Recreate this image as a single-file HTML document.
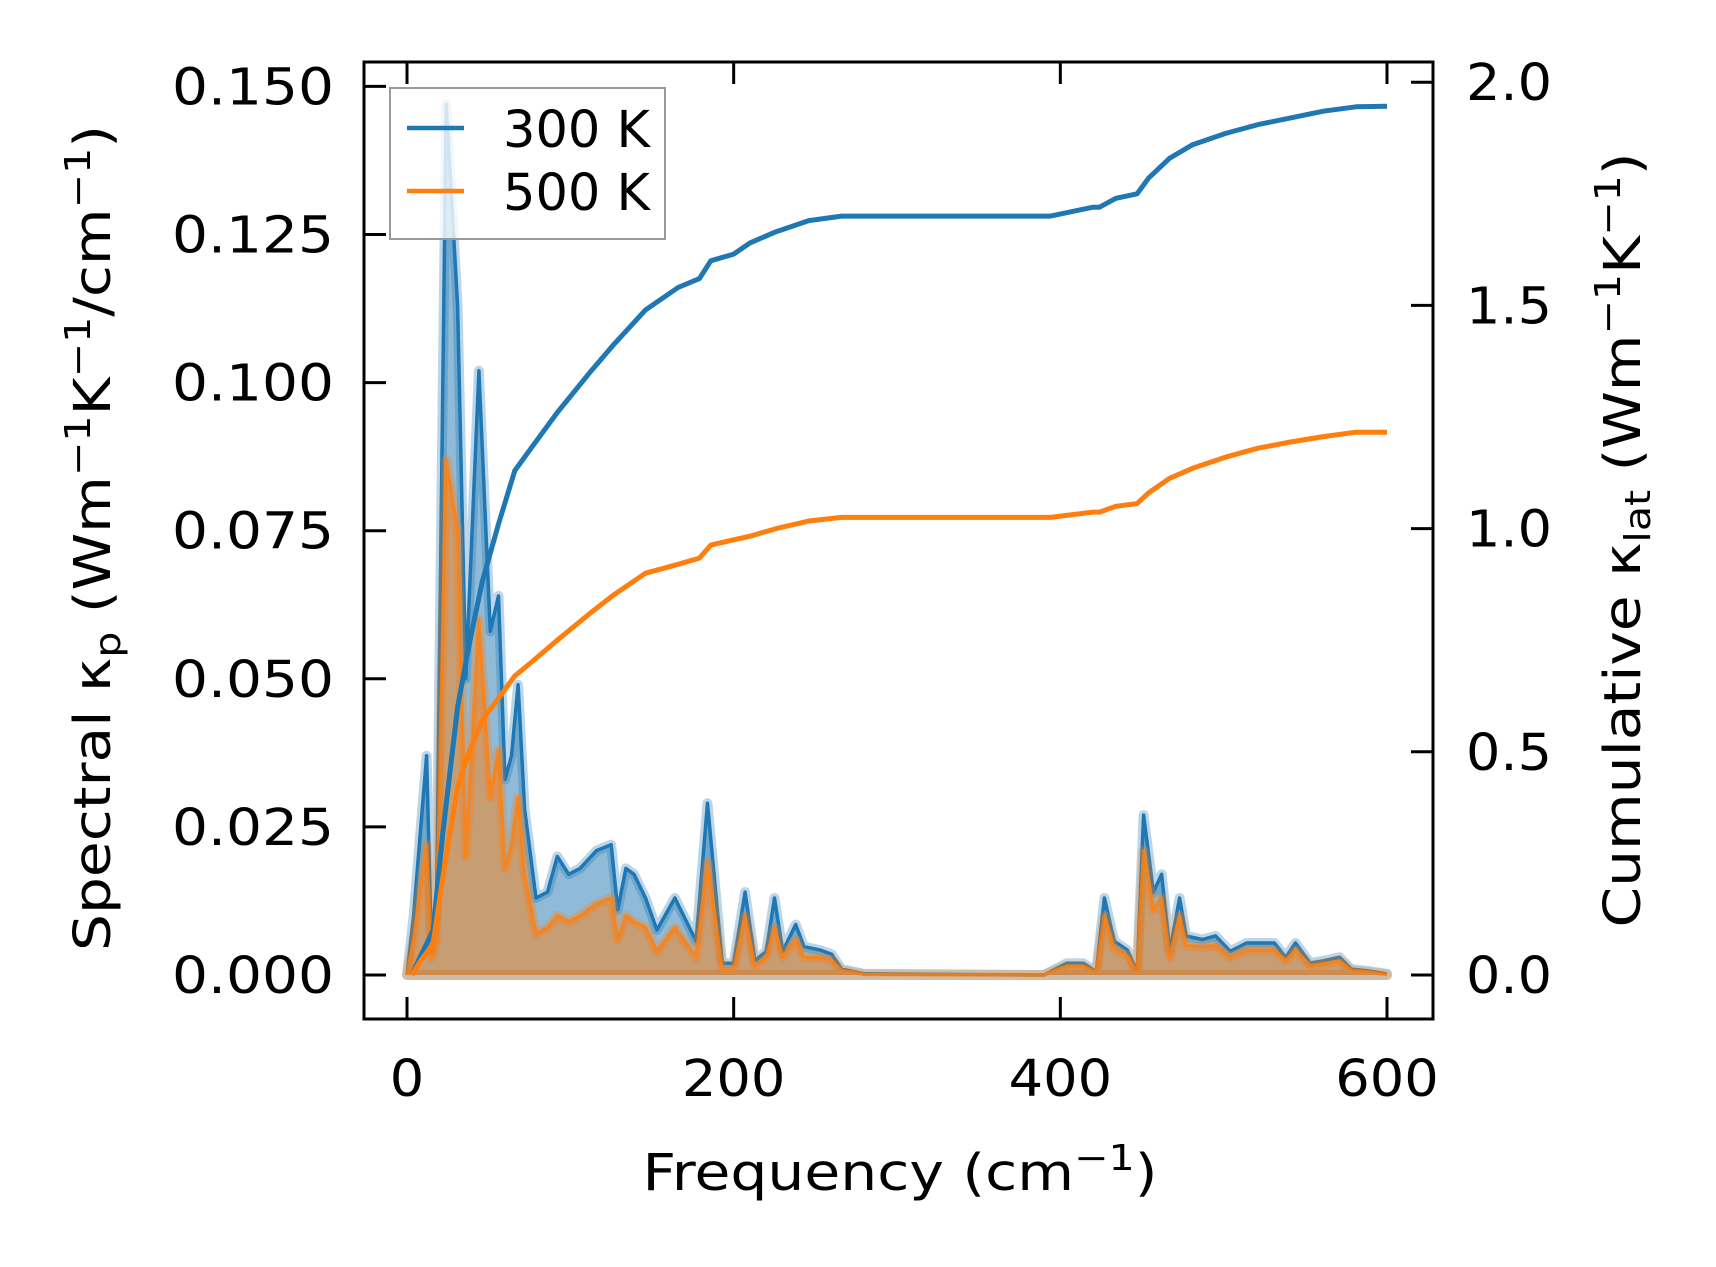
<!DOCTYPE html>
<html><head><meta charset="utf-8"><style>
html,body{margin:0;padding:0;background:#fff;}
svg{display:block;}
text{font-family:"DejaVu Sans","Liberation Sans",sans-serif;fill:#000;}
</style></head><body>
<svg id="chart" width="1716" height="1267" viewBox="0 0 1716 1267" xmlns="http://www.w3.org/2000/svg">
<rect width="1716" height="1267" fill="#fff"/>
<g id="plot"></g>
<g id="axes"></g>
</svg>
<script>
const freqs = [0,4,12,15,18,24,31,36,44,51,56,60,64,68,72,79,86,92,99,106,116,125,129,134,139,146,153,164,177,184,193,200,207,213,220,225,230,238,243,253,260,266,280,390,397,404,414,422,427,433,441,447,451,457,462,467,473,477,487,495,504,514,531,538,544,553,561,571,578,588,600];
const spec300 = [0,0.0098,0.037,0.004,0.010,0.147,0.113,0.050,0.102,0.058,0.064,0.033,0.037,0.049,0.028,0.013,0.014,0.020,0.017,0.018,0.021,0.022,0.011,0.018,0.017,0.013,0.0076,0.013,0.0057,0.029,0.002,0.002,0.014,0.0024,0.004,0.013,0.004,0.0085,0.0048,0.0042,0.0035,0.001,0.0002,0,0.001,0.002,0.002,0.0005,0.013,0.0057,0.0042,0.0005,0.027,0.014,0.017,0.004,0.013,0.0066,0.006,0.0066,0.004,0.0054,0.0054,0.003,0.0054,0.002,0.0024,0.003,0.001,0.0007,0.0002];
const spec500 = [0,0.006,0.022,0.003,0.006,0.087,0.075,0.020,0.060,0.030,0.038,0.018,0.022,0.030,0.017,0.007,0.008,0.010,0.009,0.010,0.012,0.013,0.006,0.010,0.009,0.008,0.004,0.008,0.003,0.019,0.001,0.001,0.010,0.0015,0.003,0.008,0.003,0.006,0.003,0.003,0.0025,0.0008,0.0001,0,0.0008,0.0015,0.0015,0.0004,0.010,0.0045,0.0033,0.0004,0.021,0.011,0.013,0.003,0.010,0.005,0.0048,0.005,0.003,0.0042,0.0042,0.0024,0.0042,0.0016,0.0019,0.0024,0.0008,0.0005,0.0001];
const cumFreqs = [3,8,12,16,22,31,38,46,56,66,76,92,112,126,146,166,179,186,200,210,226,246,266,287,394,420,424,434,447,454,467,481,501,521,541,561,581,600];
const cum300 = [0,0.04,0.07,0.10,0.32,0.60,0.74,0.88,1.01,1.13,1.18,1.26,1.35,1.41,1.49,1.54,1.56,1.60,1.615,1.64,1.665,1.69,1.70,1.70,1.70,1.72,1.72,1.74,1.75,1.785,1.83,1.86,1.885,1.905,1.92,1.935,1.945,1.946];
const cum500 = [0,0.03,0.05,0.07,0.22,0.42,0.50,0.57,0.62,0.67,0.70,0.75,0.81,0.85,0.90,0.92,0.934,0.963,0.975,0.983,1.0,1.017,1.025,1.025,1.025,1.037,1.037,1.05,1.056,1.08,1.113,1.135,1.16,1.18,1.194,1.206,1.216,1.216];
const xTicks = [0,200,400,600];
const yLeftTicks = [0,0.025,0.05,0.075,0.1,0.125,0.15];
const yLeftLabels = ["0.000","0.025","0.050","0.075","0.100","0.125","0.150"];
const yRightTicks = [0,0.5,1.0,1.5,2.0];
const yRightLabels = ["0.0","0.5","1.0","1.5","2.0"];

const NS="http://www.w3.org/2000/svg";
const L=364,R=1433,T=62,B=1019;
function X(f){return 407+(f/600)*(1387-407);}
function YL(v){return 975-v/0.025*148.1;}
function YR(v){return 975-v/0.5*223.2;}
function mk(tag,attrs,parent){const e=document.createElementNS(NS,tag);for(const k in attrs)e.setAttribute(k,attrs[k]);parent.appendChild(e);return e;}
const plot=document.getElementById('plot'),axes=document.getElementById('axes');
function linePts(xs,ys,fy){return xs.map((f,i)=>X(f).toFixed(1)+','+fy(ys[i]).toFixed(1)).join(' ');}
function areaD(xs,ys){let d='M'+X(xs[0])+','+YL(0);xs.forEach((f,i)=>{d+=' L'+X(f).toFixed(1)+','+YL(ys[i]).toFixed(1);});d+=' L'+X(xs[xs.length-1])+','+YL(0)+' Z';return d;}

let a1=mk('path',{d:areaD(freqs,spec300),fill:'#1f77b4','fill-opacity':0.5,stroke:'#1f77b4','stroke-opacity':0.3,'stroke-width':10,'stroke-linejoin':'round'},plot);


let l1=mk('polyline',{points:linePts(freqs,spec300,YL),fill:'none',stroke:'#1f77b4','stroke-width':3.5,'stroke-linejoin':'round'},plot);


let a2=mk('path',{d:areaD(freqs,spec500),fill:'#ff7f0e','fill-opacity':0.5,stroke:'#ff7f0e','stroke-opacity':0.3,'stroke-width':10,'stroke-linejoin':'round'},plot);


let l2=mk('polyline',{points:linePts(freqs,spec500,YL),fill:'none',stroke:'#ff7f0e','stroke-width':3.5,'stroke-linejoin':'round','stroke-opacity':0.8},plot);


let c1=mk('polyline',{points:linePts(cumFreqs,cum300,YR),fill:'none',stroke:'#1f77b4','stroke-width':5,'stroke-linejoin':'round'},plot);


let c2=mk('polyline',{points:linePts(cumFreqs,cum500,YR),fill:'none',stroke:'#ff7f0e','stroke-width':5,'stroke-linejoin':'round'},plot);



let fr=mk('rect',{x:L,y:T,width:R-L,height:B-T,fill:'none',stroke:'#000','stroke-width':3},axes);


const TL=22;
xTicks.forEach(v=>{
  mk('line',{x1:X(v),x2:X(v),y1:B,y2:B-TL,stroke:'#000','stroke-width':3},axes);
  mk('line',{x1:X(v),x2:X(v),y1:T,y2:T+TL,stroke:'#000','stroke-width':3},axes);
  const s=String(v);
  let t=mk('text',{x:X(v),y:1096,'font-size':51,'text-anchor':'middle',textLength:s.length*34.5,lengthAdjust:'spacingAndGlyphs'},axes);t.textContent=s;
  
  
});
yLeftTicks.forEach((v,i)=>{
  mk('line',{x1:L,x2:L+TL,y1:YL(v),y2:YL(v),stroke:'#000','stroke-width':3},axes);
  let t=mk('text',{x:334,y:YL(v)+18,'font-size':51,'text-anchor':'end',textLength:162,lengthAdjust:'spacingAndGlyphs'},axes);t.textContent=yLeftLabels[i];
  
  
});
yRightTicks.forEach((v,i)=>{
  mk('line',{x1:R,x2:R-TL,y1:YR(v),y2:YR(v),stroke:'#000','stroke-width':3},axes);
  let t=mk('text',{x:1466,y:YR(v)+18,'font-size':51,'text-anchor':'start',textLength:86,lengthAdjust:'spacingAndGlyphs'},axes);t.textContent=yRightLabels[i];
  
  
});
</script>
<svg style="position:absolute;left:0;top:0" width="1716" height="1267">
<g>
<rect x="390" y="88" width="275" height="151" fill="#fff" fill-opacity="0.8" stroke="#999" stroke-width="2"/>
<line x1="407" x2="464" y1="128" y2="128" stroke="#1f77b4" stroke-width="4.5"/>
<text x="503" y="147" font-size="51">300 K</text>
<line x1="407" x2="464" y1="191" y2="191" stroke="#ff7f0e" stroke-width="4.5"/>
<text x="503" y="210" font-size="51">500 K</text>
</g>
<text x="900" y="1190" font-size="51" text-anchor="middle" textLength="515" lengthAdjust="spacingAndGlyphs">Frequency (cm<tspan dy="-20" font-size="36">−1</tspan><tspan dy="20">)</tspan></text>
<text transform="translate(110,538) rotate(-90)" font-size="51" text-anchor="middle" textLength="826" lengthAdjust="spacingAndGlyphs">Spectral κ<tspan dy="10" font-size="36">p</tspan><tspan dy="-10"> (Wm</tspan><tspan dy="-20" font-size="36">−1</tspan><tspan dy="20">K</tspan><tspan dy="-20" font-size="36">−1</tspan><tspan dy="20">/cm</tspan><tspan dy="-20" font-size="36">−1</tspan><tspan dy="20">)</tspan></text>
<text transform="translate(1640,540) rotate(-90)" font-size="51" text-anchor="middle" textLength="775" lengthAdjust="spacingAndGlyphs">Cumulative κ<tspan dy="10" font-size="36">lat</tspan><tspan dy="-10"> (Wm</tspan><tspan dy="-20" font-size="36">−1</tspan><tspan dy="20">K</tspan><tspan dy="-20" font-size="36">−1</tspan><tspan dy="20">)</tspan></text>
</svg>
</body></html>
